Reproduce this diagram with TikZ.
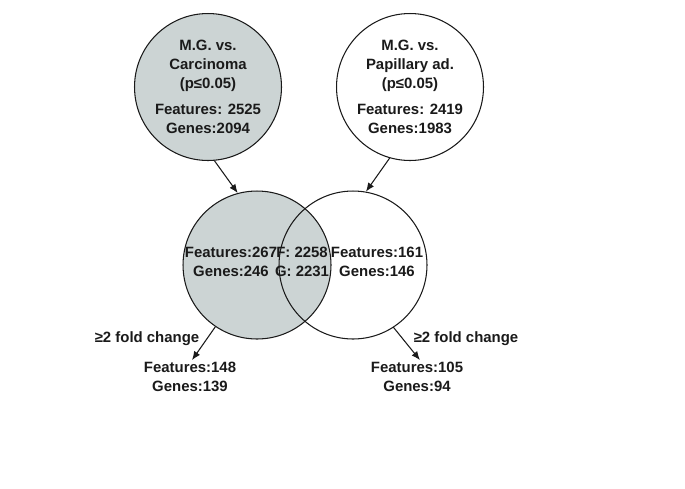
\documentclass[tikz,border=0pt]{standalone}
\usepackage{fontspec}
\setmainfont{Liberation Sans}
\usepackage{xcolor}
\usepackage{tikz}
\usetikzlibrary{arrows.meta}
\definecolor{shade}{HTML}{CCD4D4}
\definecolor{ink}{HTML}{1A1A1A}
\tikzset{
  ring/.style={circle, draw=ink, line width=0.6pt, minimum size=2.94cm, inner sep=0pt},
  big/.style={ring, minimum size=2.94cm},
  venn/.style={ring, minimum size=2.96cm},
  lab/.style={text=ink, font=\fontsize{8.5}{10.8}\selectfont\bfseries, align=center, inner sep=1pt},
  flow/.style={draw=ink, line width=0.6pt, -{Latex[length=5pt,width=4pt]}}
}
\begin{document}
\begin{tikzpicture}[x=0.02cm, y=-0.02cm, line cap=round, line join=round]
  \useasboundingbox (0,0) rectangle (685,488);
  % top circles
  \node[big, fill=shade, lab] (carc) at (208,87)
    {M.G. vs.\\Carcinoma\\(p≤0.05)\\[4pt]Features: 2525\\Genes:2094};
  \node[big, lab] (pap) at (410,87)
    {M.G. vs.\\Papillary ad.\\(p≤0.05)\\[4pt]Features: 2419\\Genes:1983};
  % venn
  \node[venn, fill=shade] (vl) at (257,265) {};
  \node[venn] (vr) at (353,265) {};
  \node[lab] (onlyl) at (231,262) {Features:267\\Genes:246};
  \node[lab] (both) at (302,262) {F: 2258\\G: 2231};
  \node[lab] (onlyr) at (377,262) {Features:161\\Genes:146};
  \draw[flow] (carc.-85) -- (vl.105);
  \draw[flow] (pap.-106) -- (vr.80);
  % fold change
  \node[lab] (res1) at (190,377) {Features:148\\Genes:139};
  \node[lab] (res2) at (417,377) {Features:105\\Genes:94};
  \node[lab] (fc1) at (147,339) {≥2 fold change};
  \node[lab] (fc2) at (466,339) {≥2 fold change};
  \draw[flow] (vl.-124) -- ([xshift=0.04cm]res1.north);
  \draw[flow] (vr.-57) -- ([xshift=0.06cm]res2.north);
\end{tikzpicture}
\end{document}
